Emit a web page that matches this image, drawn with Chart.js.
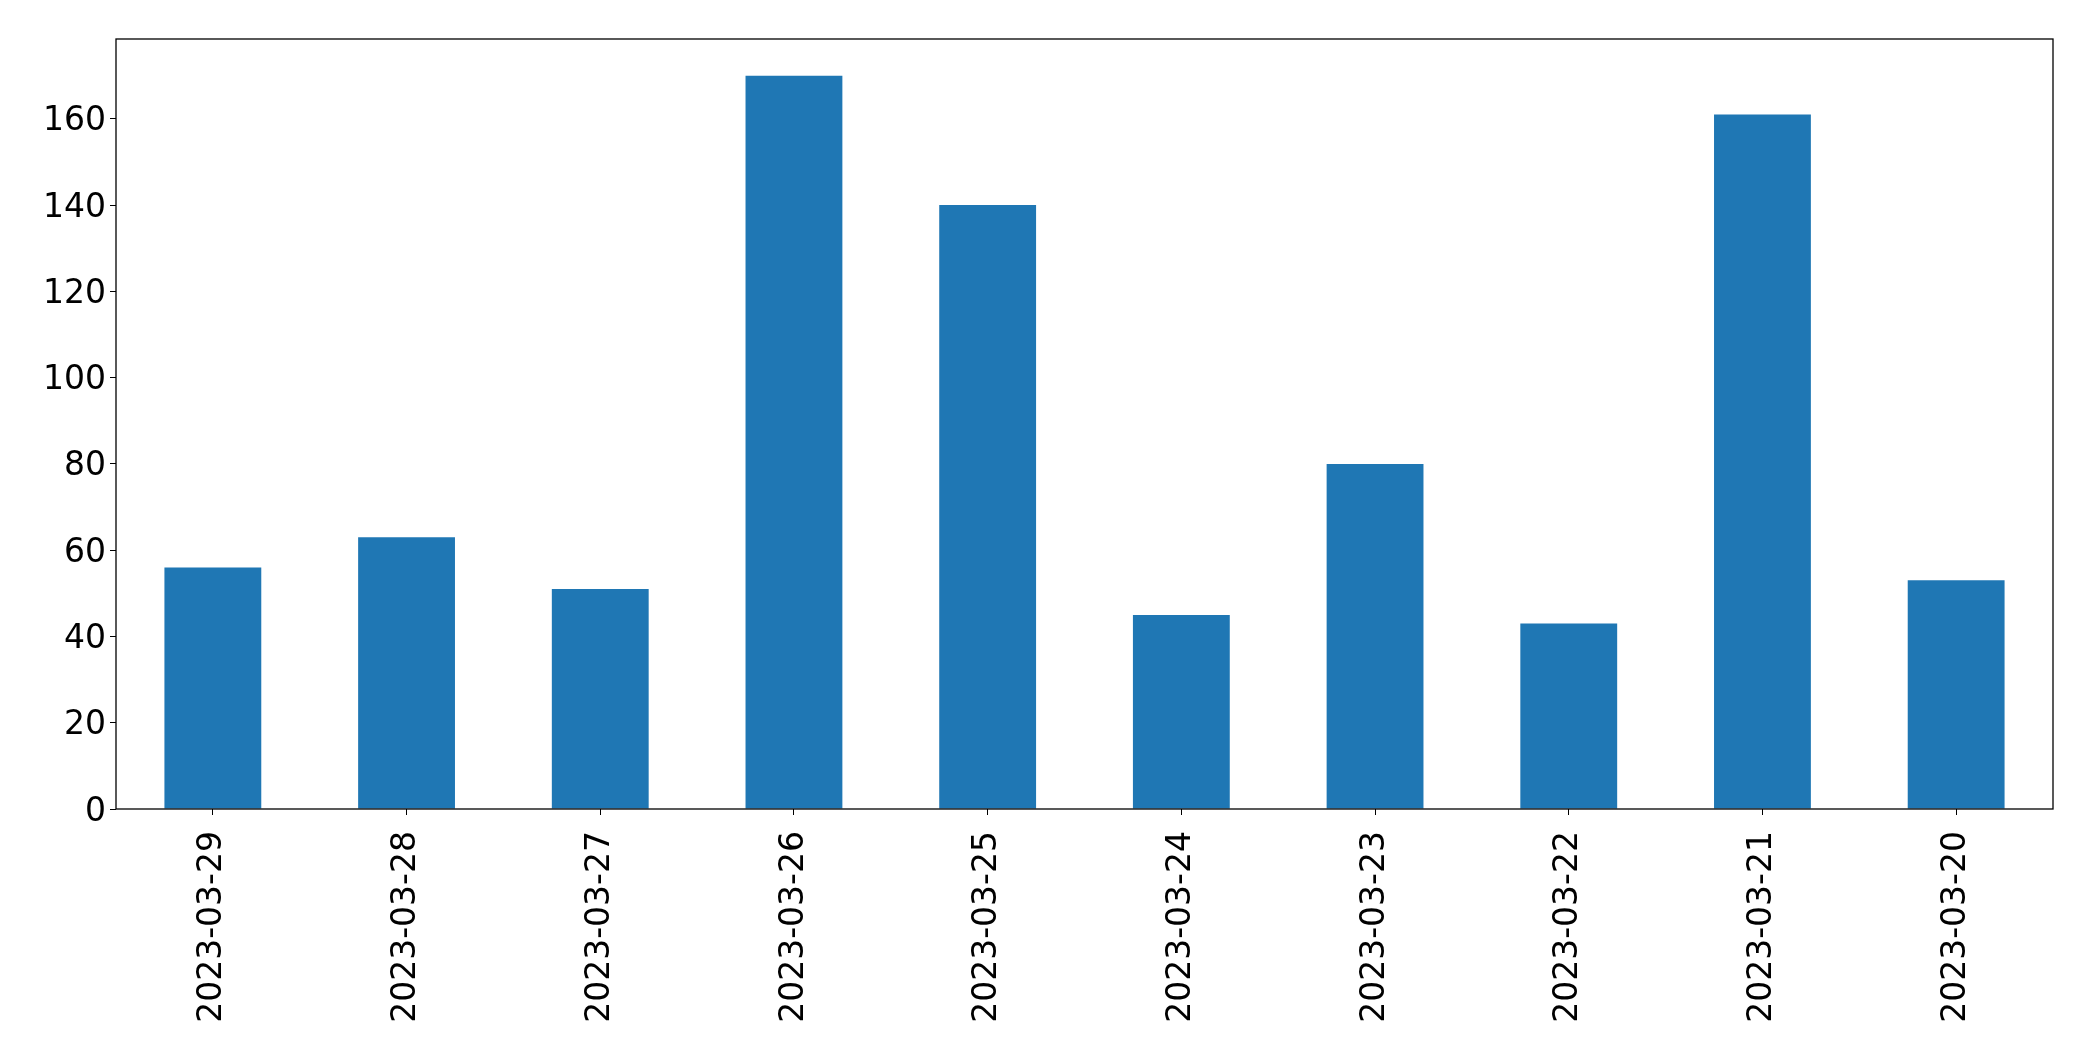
<!DOCTYPE html>
<html lang="en">
<head>
    <meta charset="UTF-8">
    <title>Daily counts</title>
    <script src="https://cdn.jsdelivr.net/npm/chart.js"></script>
    <style>
        html, body { margin: 0; padding: 0; background: #ffffff; }
        .wrap { width: 2093px; height: 1061px; position: relative; }
    </style>
</head>
<body>
    <div class="wrap"><canvas id="barChart"></canvas></div>
    <script>
        // data
        const dates = ["2023-03-29", "2023-03-28", "2023-03-27", "2023-03-26", "2023-03-25",
                       "2023-03-24", "2023-03-23", "2023-03-22", "2023-03-21", "2023-03-20"];
        const counts = [56, 63, 51, 170, 140, 45, 80, 43, 161, 53];
        const yTicks = [0, 20, 40, 60, 80, 100, 120, 140, 160];

        const tickFont = { family: "'DejaVu Sans', sans-serif", size: 33 };

        // box around the plot area, like a matplotlib frame
        const frame = {
            id: "frame",
            afterLayout(chart) {
                // nudge y labels down a little so digits sit centred on the ticks
                const y = chart.scales.y;
                if (!y._nudged) {
                    const orig = y.drawLabels.bind(y);
                    y.drawLabels = function (area) {
                        const ctx = this.ctx;
                        ctx.save();
                        ctx.translate(0, 3);
                        orig(area);
                        ctx.restore();
                    };
                    y._nudged = true;
                }
            },
            afterDraw(chart) {
                const a = chart.chartArea, ctx = chart.ctx;
                ctx.save();
                ctx.strokeStyle = "#000000";
                ctx.lineWidth = 1.3;
                ctx.strokeRect(a.left, a.top, a.right - a.left, a.bottom - a.top);
                ctx.restore();
            }
        };

        new Chart(document.getElementById("barChart").getContext("2d"), {
            type: "bar",
            data: {
                labels: dates,
                datasets: [{
                    data: counts,
                    backgroundColor: "#1f77b4",
                    borderWidth: 0,
                    barPercentage: 0.5,
                    categoryPercentage: 1.0
                }]
            },
            options: {
                responsive: true,
                maintainAspectRatio: false,
                animation: false,
                layout: { padding: { left: 0, top: 39, right: 40, bottom: 0 } },
                plugins: { legend: { display: false }, tooltip: { enabled: false } },
                scales: {
                    x: {
                        offset: true,
                        grid: { display: true, drawOnChartArea: false, color: "#000000", tickLength: 6, offset: false },
                        border: { display: false },
                        ticks: { color: "#000000", font: tickFont, minRotation: 90, maxRotation: 90, padding: 16, autoSkip: false },
                        afterFit(s) { s.height = 252; }
                    },
                    y: {
                        min: 0,
                        max: 178.5,
                        afterBuildTicks(s) { s.ticks = yTicks.map(v => ({ value: v })); },
                        grid: { display: true, drawOnChartArea: false, color: "#000000", tickLength: 6 },
                        border: { display: false },
                        ticks: { color: "#000000", font: tickFont, padding: 4 },
                        afterFit(s) { s.width = 116; }
                    }
                }
            },
            plugins: [frame]
        });
    </script>
</body>
</html>
